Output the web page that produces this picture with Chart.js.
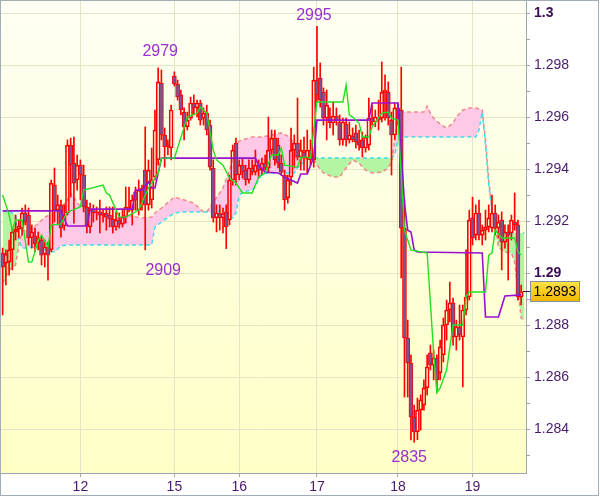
<!DOCTYPE html>
<html>
<head>
<meta charset="utf-8">
<title>H1 candles with Ichimoku</title>
<script src="https://cdn.jsdelivr.net/npm/chart.js@4.4.1/dist/chart.umd.min.js"></script>
<style>
  html, body { margin: 0; padding: 0; background: #fff; }
  canvas { display: block; }
</style>
</head>
<body>
<canvas id="chart" width="600" height="497"></canvas>
<script>
// hourly bars, index 0 = first bar on screen
const open = [
  1.29078, 1.29039, 1.29043, 1.29090, 1.29159, 1.29170, 1.29174, 1.29232, 1.29224, 1.29136,
  1.29143, 1.29116, 1.29128, 1.29074, 1.29101, 1.29090, 1.29339, 1.29243, 1.29263, 1.29182,
  1.29232, 1.29493, 1.29424, 1.29359, 1.29416, 1.29378, 1.29255, 1.29178, 1.29247, 1.29232,
  1.29236, 1.29224, 1.29232, 1.29224, 1.29209, 1.29178, 1.29205, 1.29189, 1.29216, 1.29255,
  1.29243, 1.29313, 1.29243, 1.29320, 1.29397, 1.29263, 1.29282, 1.29370, 1.29436, 1.29732,
  1.29532, 1.29486, 1.29482, 1.29759, 1.29728, 1.29686, 1.29620, 1.29563, 1.29597, 1.29655,
  1.29636, 1.29655, 1.29597, 1.29616, 1.29570, 1.29405, 1.29213, 1.29232, 1.29213, 1.29236,
  1.29205, 1.29359, 1.29501, 1.29378, 1.29416, 1.29397, 1.29359, 1.29405, 1.29389, 1.29416,
  1.29397, 1.29424, 1.29405, 1.29474, 1.29520, 1.29493, 1.29424, 1.29378, 1.29290, 1.29370,
  1.29474, 1.29501, 1.29447, 1.29466, 1.29443, 1.29474, 1.29436, 1.29743, 1.29751, 1.29697,
  1.29597, 1.29601, 1.29578, 1.29605, 1.29582, 1.29513, 1.29574, 1.29513, 1.29528, 1.29540,
  1.29505, 1.29513, 1.29482, 1.29493, 1.29597, 1.29582, 1.29597, 1.29597, 1.29697, 1.29697,
  1.29589, 1.29532, 1.29636, 1.29628, 1.29174, 1.28751, 1.28655, 1.28447, 1.28390, 1.28474,
  1.28493, 1.28559, 1.28694, 1.28647, 1.28674, 1.28617, 1.28686, 1.28801, 1.28859, 1.28886,
  1.28755, 1.28794, 1.28755, 1.28859, 1.28909, 1.29213, 1.29147, 1.29232, 1.29147, 1.29166,
  1.29178, 1.29174, 1.29232, 1.29174, 1.29205, 1.29120, 1.29159, 1.29155, 1.29197, 1.29186,
  1.28909
];
const high = [
  1.29097, 1.29090, 1.29128, 1.29174, 1.29224, 1.29205, 1.29251, 1.29263, 1.29251, 1.29186,
  1.29174, 1.29159, 1.29143, 1.29128, 1.29120, 1.29359, 1.29405, 1.29301, 1.29282, 1.29263,
  1.29513, 1.29520, 1.29524, 1.29455, 1.29436, 1.29416, 1.29282, 1.29270, 1.29263, 1.29255,
  1.29282, 1.29243, 1.29255, 1.29255, 1.29255, 1.29236, 1.29232, 1.29243, 1.29332, 1.29332,
  1.29301, 1.29332, 1.29359, 1.29339, 1.29563, 1.29436, 1.29482, 1.29628, 1.29790, 1.29782,
  1.29559, 1.29513, 1.29647, 1.29775, 1.29743, 1.29705, 1.29636, 1.29620, 1.29678, 1.29686,
  1.29666, 1.29666, 1.29636, 1.29647, 1.29589, 1.29436, 1.29263, 1.29263, 1.29251, 1.29263,
  1.29378, 1.29493, 1.29520, 1.29436, 1.29443, 1.29416, 1.29436, 1.29436, 1.29474, 1.29436,
  1.29443, 1.29455, 1.29601, 1.29551, 1.29551, 1.29520, 1.29455, 1.29397, 1.29378, 1.29559,
  1.29532, 1.29674, 1.29513, 1.29524, 1.29551, 1.29513, 1.29793, 1.29950, 1.29809, 1.29713,
  1.29705, 1.29636, 1.29659, 1.29636, 1.29609, 1.29597, 1.29597, 1.29582, 1.29559, 1.29570,
  1.29551, 1.29543, 1.29532, 1.29674, 1.29647, 1.29628, 1.29666, 1.29813, 1.29763, 1.29736,
  1.29620, 1.29655, 1.29655, 1.29793, 1.29282, 1.28820, 1.28686, 1.28493, 1.28520, 1.28532,
  1.28590, 1.28686, 1.28724, 1.28705, 1.28686, 1.28743, 1.28828, 1.28897, 1.28966, 1.28905,
  1.28820, 1.28878, 1.28878, 1.29090, 1.29243, 1.29293, 1.29263, 1.29282, 1.29186, 1.29243,
  1.29263, 1.29301, 1.29263, 1.29224, 1.29236, 1.29186, 1.29186, 1.29224, 1.29309, 1.29205,
  1.28955
];
const low = [
  1.28840, 1.28955, 1.28993, 1.29013, 1.29128, 1.29136, 1.29147, 1.29186, 1.29109, 1.29097,
  1.29082, 1.29090, 1.29032, 1.29024, 1.28974, 1.29082, 1.29197, 1.29186, 1.29139, 1.29166,
  1.29224, 1.29293, 1.29193, 1.29320, 1.29282, 1.29236, 1.29155, 1.29155, 1.29197, 1.29205,
  1.29155, 1.29197, 1.29166, 1.29178, 1.29155, 1.29166, 1.29174, 1.29178, 1.29193, 1.29236,
  1.29186, 1.29243, 1.29224, 1.29243, 1.29090, 1.29243, 1.29251, 1.29359, 1.29416, 1.29513,
  1.29408, 1.29455, 1.29436, 1.29720, 1.29666, 1.29609, 1.29513, 1.29551, 1.29589, 1.29609,
  1.29601, 1.29570, 1.29570, 1.29532, 1.29397, 1.29197, 1.29159, 1.29166, 1.29155, 1.29095,
  1.29186, 1.29339, 1.29339, 1.29359, 1.29366, 1.29339, 1.29347, 1.29378, 1.29378, 1.29366,
  1.29378, 1.29389, 1.29389, 1.29455, 1.29416, 1.29405, 1.29378, 1.29243, 1.29270, 1.29339,
  1.29405, 1.29436, 1.29397, 1.29397, 1.29386, 1.29416, 1.29408, 1.29659, 1.29639, 1.29570,
  1.29513, 1.29559, 1.29532, 1.29570, 1.29493, 1.29493, 1.29489, 1.29501, 1.29505, 1.29482,
  1.29474, 1.29447, 1.29466, 1.29474, 1.29570, 1.29563, 1.29551, 1.29582, 1.29589, 1.29570,
  1.29378, 1.29513, 1.29570, 1.28982, 1.28524, 1.28524, 1.28359, 1.28350, 1.28360, 1.28397,
  1.28474, 1.28532, 1.28628, 1.28590, 1.28544, 1.28590, 1.28659, 1.28743, 1.28813, 1.28724,
  1.28705, 1.28743, 1.28563, 1.28840, 1.28897, 1.29109, 1.29128, 1.29128, 1.29109, 1.29128,
  1.29159, 1.29159, 1.29147, 1.29136, 1.29013, 1.29097, 1.28974, 1.29128, 1.29166, 1.28897,
  1.28878
];
const close = [
  1.29024, 1.29074, 1.29090, 1.29159, 1.29170, 1.29182, 1.29232, 1.29197, 1.29136, 1.29159,
  1.29113, 1.29136, 1.29070, 1.29101, 1.29070, 1.29347, 1.29243, 1.29263, 1.29174, 1.29224,
  1.29493, 1.29416, 1.29347, 1.29416, 1.29378, 1.29255, 1.29182, 1.29247, 1.29232, 1.29236,
  1.29224, 1.29232, 1.29216, 1.29209, 1.29178, 1.29205, 1.29189, 1.29216, 1.29255, 1.29243,
  1.29282, 1.29282, 1.29320, 1.29328, 1.29263, 1.29397, 1.29359, 1.29551, 1.29736, 1.29532,
  1.29486, 1.29493, 1.29628, 1.29728, 1.29678, 1.29628, 1.29563, 1.29589, 1.29655, 1.29636,
  1.29655, 1.29589, 1.29616, 1.29551, 1.29408, 1.29213, 1.29232, 1.29213, 1.29228, 1.29178,
  1.29359, 1.29474, 1.29378, 1.29416, 1.29389, 1.29359, 1.29405, 1.29389, 1.29416, 1.29397,
  1.29424, 1.29405, 1.29474, 1.29520, 1.29436, 1.29424, 1.29389, 1.29282, 1.29359, 1.29474,
  1.29501, 1.29447, 1.29474, 1.29443, 1.29474, 1.29436, 1.29743, 1.29686, 1.29666, 1.29597,
  1.29647, 1.29578, 1.29605, 1.29589, 1.29513, 1.29582, 1.29513, 1.29532, 1.29513, 1.29505,
  1.29493, 1.29482, 1.29524, 1.29597, 1.29582, 1.29601, 1.29589, 1.29697, 1.29705, 1.29597,
  1.29532, 1.29636, 1.29620, 1.29174, 1.28751, 1.28655, 1.28447, 1.28390, 1.28474, 1.28513,
  1.28559, 1.28640, 1.28647, 1.28674, 1.28590, 1.28717, 1.28801, 1.28859, 1.28886, 1.28755,
  1.28794, 1.28763, 1.28859, 1.28909, 1.29205, 1.29136, 1.29232, 1.29147, 1.29166, 1.29178,
  1.29213, 1.29232, 1.29174, 1.29197, 1.29120, 1.29159, 1.29147, 1.29205, 1.29186, 1.28909,
  1.28930
];

// tenkan-sen (green) and kijun-sen (purple), given at the bars where they turn
const tenkanBar = [0, 2, 3, 4, 6, 8, 9, 11, 12, 14, 15, 18, 20, 24, 25, 31, 32, 33, 35, 36,
  38, 42, 45, 48, 49, 53, 57, 60, 61, 63, 65, 66, 68, 70, 72, 74, 77, 79, 81, 83,
  85, 86, 87, 91, 92, 94, 95, 97, 105, 106, 107, 108, 110, 111, 113, 114, 117, 119, 120, 122,
  124, 126, 131, 133, 134, 135, 137, 139, 142, 143, 144, 149, 150, 151, 152, 154, 158, 159, 160];
const tenkan = [1.29301, 1.29224, 1.29166, 1.29205, 1.29205, 1.29043, 1.29043, 1.29128, 1.29147, 1.29101,
  1.29186, 1.29189, 1.29236, 1.29255, 1.29320, 1.29339, 1.29309, 1.29301, 1.29243, 1.29216,
  1.29216, 1.29243, 1.29328, 1.29386, 1.29443, 1.29443, 1.29601, 1.29616, 1.29639, 1.29616,
  1.29474, 1.29436, 1.29416, 1.29366, 1.29347, 1.29309, 1.29309, 1.29370, 1.29386, 1.29455,
  1.29455, 1.29482, 1.29416, 1.29408, 1.29447, 1.29447, 1.29443, 1.29659, 1.29659, 1.29724,
  1.29609, 1.29601, 1.29578, 1.29524, 1.29524, 1.29563, 1.29616, 1.29620, 1.29597, 1.29589,
  1.29166, 1.29090, 1.29078, 1.28694, 1.28540, 1.28559, 1.28628, 1.28801, 1.28801, 1.28909,
  1.28928, 1.28928, 1.29070, 1.29078, 1.29166, 1.29136, 1.29136, 1.29082, 1.29070];

const kijunBar = [0, 18, 20, 26, 27, 40, 41, 43, 45, 46, 47, 49, 78, 79, 81, 85, 87, 91, 92, 94,
  96, 97, 113, 114, 122, 124, 125, 126, 127, 128, 148, 149, 153, 155, 160];
const kijun = [1.29240, 1.29240, 1.29182, 1.29182, 1.29247, 1.29247, 1.29320, 1.29320, 1.29351, 1.29328,
  1.29328, 1.29443, 1.29443, 1.29416, 1.29389, 1.29386, 1.29370, 1.29347, 1.29382, 1.29382,
  1.29447, 1.29589, 1.29589, 1.29655, 1.29655, 1.29270, 1.29166, 1.29159, 1.29090, 1.29082,
  1.29078, 1.28832, 1.28832, 1.28913, 1.28917];

// cloud: senkou span A (cyan) and span B (salmon) at the same bars
const cloudBar = [0, 2, 4, 5, 6, 7, 10, 13, 16, 18, 20, 21, 24, 27, 31, 34, 38, 43, 46, 47,
  49, 53, 56, 59, 62, 63, 65, 67, 68, 70, 71, 72, 73, 74, 77, 78, 80, 83, 86, 88,
  90, 91, 93, 94, 96, 97, 99, 102, 104, 106, 108, 110, 112, 114, 117, 119, 120, 121, 122, 123,
  130, 131, 132, 133, 135, 137, 139, 140, 142, 144, 146, 147, 148, 149, 150, 151, 152, 153, 155, 157,
  158, 159, 160, 161];
const spanA = [1.29239, 1.29239, 1.29224, 1.29128, 1.29097, 1.29097, 1.29101, 1.29090, 1.29082, 1.29105,
  1.29109, 1.29109, 1.29109, 1.29109, 1.29109, 1.29109, 1.29109, 1.29109, 1.29109, 1.29178,
  1.29197, 1.29232, 1.29236, 1.29236, 1.29236, 1.29236, 1.29236, 1.29239, 1.29239, 1.29220,
  1.29213, 1.29232, 1.29297, 1.29313, 1.29320, 1.29336, 1.29382, 1.29386, 1.29386, 1.29386,
  1.29386, 1.29405, 1.29428, 1.29440, 1.29443, 1.29443, 1.29443, 1.29443, 1.29443, 1.29443,
  1.29443, 1.29443, 1.29443, 1.29443, 1.29443, 1.29443, 1.29443, 1.29455, 1.29513, 1.29524,
  1.29524, 1.29524, 1.29524, 1.29524, 1.29524, 1.29524, 1.29524, 1.29524, 1.29524, 1.29524,
  1.29524, 1.29551, 1.29620, 1.29493, 1.29339, 1.29243, 1.29166, 1.29155, 1.29155, 1.29155,
  1.29155, 1.29155, 1.29155, 1.29155];
const spanB = [1.28963, 1.29013, 1.29032, 1.29109, 1.29159, 1.29166, 1.29182, 1.29216, 1.29232, 1.29251,
  1.29282, 1.29309, 1.29255, 1.29243, 1.29228, 1.29205, 1.29224, 1.29213, 1.29216, 1.29232,
  1.29251, 1.29293, 1.29282, 1.29270, 1.29236, 1.29236, 1.29274, 1.29309, 1.29328, 1.29397,
  1.29436, 1.29493, 1.29509, 1.29513, 1.29524, 1.29524, 1.29524, 1.29532, 1.29540, 1.29528,
  1.29501, 1.29455, 1.29443, 1.29440, 1.29436, 1.29416, 1.29386, 1.29370, 1.29370, 1.29405,
  1.29436, 1.29424, 1.29397, 1.29386, 1.29389, 1.29405, 1.29428, 1.29513, 1.29609, 1.29620,
  1.29620, 1.29643, 1.29616, 1.29597, 1.29574, 1.29559, 1.29578, 1.29601, 1.29628, 1.29636,
  1.29636, 1.29632, 1.29628, 1.29513, 1.29359, 1.29243, 1.29186, 1.29101, 1.29082, 1.29078,
  1.29043, 1.28936, 1.28828, 1.28820];

// x axis: first bar of each day
const dayBars = [24, 53, 73, 97, 122, 145];
const dayLabels = ['12', '15', '16', '17', '18', '19'];
// y axis ticks (labels on even ones only)
const priceTicks = [1.283, 1.284, 1.285, 1.286, 1.287, 1.288, 1.289, 1.290, 1.291,
  1.292, 1.293, 1.294, 1.295, 1.296, 1.297, 1.298, 1.299, 1.300];

// marked extremes
const peakBars = [48, 97];
const troughBars = [44, 127];

const RED = '#ff0000';
const FONT = '"Liberation Sans", Arial, sans-serif';
const AXIS_TEXT = '#4b1870';
Chart.defaults.font.family = FONT;

const last = close.length - 1;
const pts = (xs, ys) => xs.map((b, i) => ({x: b, y: ys[i]}));
const bodyData = open.map((o, i) => ({x: i, y: [o, close[i]]}));
const upperWick = open.map((o, i) => ({x: i, y: [Math.max(o, close[i]), high[i]]}));
const lowerWick = open.map((o, i) => ({x: i, y: [low[i], Math.min(o, close[i])]}));
const bodyFill = open.map((o, i) => close[i] < o ? '#7b5296' : 'rgba(0,0,0,0)');

const tickVal = ctx => (ctx && ctx.tick ? ctx.tick.value : 1.291);
const isEven = v => Math.round(v * 1000) % 2 === 0;
const isRound = v => Math.round(v * 1000) % 10 === 0;

const paper = {
  id: 'paper',
  beforeDraw(chart) {
    const {ctx, chartArea: a, width, height} = chart;
    ctx.save();
    ctx.fillStyle = '#ffffff';
    ctx.fillRect(0, 0, width, height);
    const g = ctx.createLinearGradient(0, a.top, 0, a.bottom);
    g.addColorStop(0, '#fffff4');
    g.addColorStop(1, '#ffffc6');
    ctx.fillStyle = g;
    ctx.fillRect(a.left, a.top, a.right - a.left, a.bottom - a.top);
    ctx.restore();
  },
  afterDraw(chart) {
    const {ctx} = chart;
    ctx.save();
    ctx.strokeStyle = '#a3adb6';
    ctx.lineWidth = 1;
    ctx.strokeRect(0.5, 0.5, 598, 495);
    ctx.restore();
  }
};

// 4-digit labels at the marked highs and lows
const extremes = {
  id: 'extremes',
  afterDatasetsDraw(chart) {
    const {ctx, scales: {x, y}} = chart;
    const shift = {48: [2, -16], 97: [-3, -11], 44: [18, 21], 127: [-5, 15]};
    ctx.save();
    ctx.font = '16px ' + FONT;
    ctx.fillStyle = '#9a30d0';
    ctx.textAlign = 'center';
    ctx.textBaseline = 'middle';
    const put = (b, v) => {
      const s = shift[b];
      ctx.fillText(String(Math.round(v * 10000) % 10000), x.getPixelForValue(b) + s[0], y.getPixelForValue(v) + s[1]);
    };
    peakBars.forEach(b => put(b, high[b]));
    troughBars.forEach(b => put(b, low[b]));
    ctx.restore();
  }
};

// last price tag on the right axis
const priceTag = {
  id: 'priceTag',
  afterDraw(chart) {
    const {ctx, chartArea: a, scales: {x, y}} = chart;
    const py = Math.round(y.getPixelForValue(close[last])) + 0.5;
    ctx.save();
    ctx.strokeStyle = '#3a1050';
    ctx.lineWidth = 1;
    ctx.beginPath();
    ctx.moveTo(x.getPixelForValue(last) + 2, py);
    ctx.lineTo(a.right + 5, py);
    ctx.stroke();
    const g = ctx.createLinearGradient(0, py - 10, 0, py + 10);
    g.addColorStop(0, '#ffe24a');
    g.addColorStop(1, '#f2b600');
    ctx.fillStyle = g;
    ctx.fillRect(530.5, py - 10, 49, 20);
    ctx.strokeStyle = '#8091a2';
    ctx.strokeRect(530.5, py - 10, 49, 20);
    ctx.fillStyle = '#000';
    ctx.font = '14px ' + FONT;
    ctx.textAlign = 'center';
    ctx.textBaseline = 'middle';
    ctx.fillText(close[last].toFixed(4), 555, py + 1);
    ctx.restore();
  }
};

new Chart(document.getElementById('chart'), {
  type: 'bar',
  data: {
    datasets: [
      {
        type: 'line', data: pts(cloudBar, spanA), borderColor: '#3fdcec', borderWidth: 1.5,
        borderDash: [4, 3], pointRadius: 0, fill: false, order: 3
      },
      {
        type: 'line', data: pts(cloudBar, spanB), borderColor: '#f08a8a', borderWidth: 1.5,
        borderDash: [4, 3], pointRadius: 0, order: 3,
        fill: {target: 0, above: '#ffc8e6', below: '#b4f5a4'}
      },
      {data: upperWick, backgroundColor: RED, borderWidth: 0, barThickness: 1, grouped: false, order: 2},
      {data: lowerWick, backgroundColor: RED, borderWidth: 0, barThickness: 1, grouped: false, order: 2},
      {
        data: bodyData, backgroundColor: bodyFill, borderColor: RED, borderWidth: 1,
        borderSkipped: false, barThickness: 4, grouped: false, order: 2
      },
      {type: 'line', data: pts(kijunBar, kijun), borderColor: '#9a10d0', borderWidth: 1.6, pointRadius: 0, order: 1},
      {type: 'line', data: pts(tenkanBar, tenkan), borderColor: '#22e022', borderWidth: 1.4, pointRadius: 0, order: 0}
    ]
  },
  options: {
    responsive: false,
    animation: false,
    events: [],
    layout: {padding: {left: 1, top: 1, right: 0, bottom: 0}},
    plugins: {legend: {display: false}, tooltip: {enabled: false}},
    scales: {
      x: {
        type: 'linear', min: -0.5, max: last + 1.5, offset: false,
        afterBuildTicks: s => { s.ticks = dayBars.map(v => ({value: v})); },
        afterFit: s => { s.height = 24; s.paddingLeft = 0; s.paddingRight = 0; },
        ticks: {
          callback: v => dayLabels[dayBars.indexOf(v)],
          color: AXIS_TEXT, font: {size: 14}, padding: 2, maxRotation: 0, autoSkip: false
        },
        grid: {color: '#e4e4c6', tickColor: '#9aa6b0', tickLength: 4, offset: false},
        border: {color: '#9aa6b0'}
      },
      y: {
        position: 'right', min: 1.282319, max: 1.300473,
        afterBuildTicks: s => { s.ticks = priceTicks.map(v => ({value: v})); },
        afterFit: s => { s.width = 74; s.paddingTop = 0; s.paddingBottom = 0; },
        ticks: {
          callback: v => isEven(v) ? String(parseFloat(v.toFixed(3))) : '',
          color: ctx => isRound(tickVal(ctx)) ? '#3a0c55' : AXIS_TEXT,
          font: ctx => ({size: 14, weight: isRound(tickVal(ctx)) ? 'bold' : 'normal'}),
          padding: 4, autoSkip: false
        },
        grid: {
          color: ctx => isEven(tickVal(ctx)) ? '#e4e4c6' : 'rgba(0,0,0,0)',
          tickColor: '#9aa6b0', tickLength: 4
        },
        border: {color: '#9aa6b0'}
      }
    }
  },
  plugins: [paper, extremes, priceTag]
});
</script>
</body>
</html>
